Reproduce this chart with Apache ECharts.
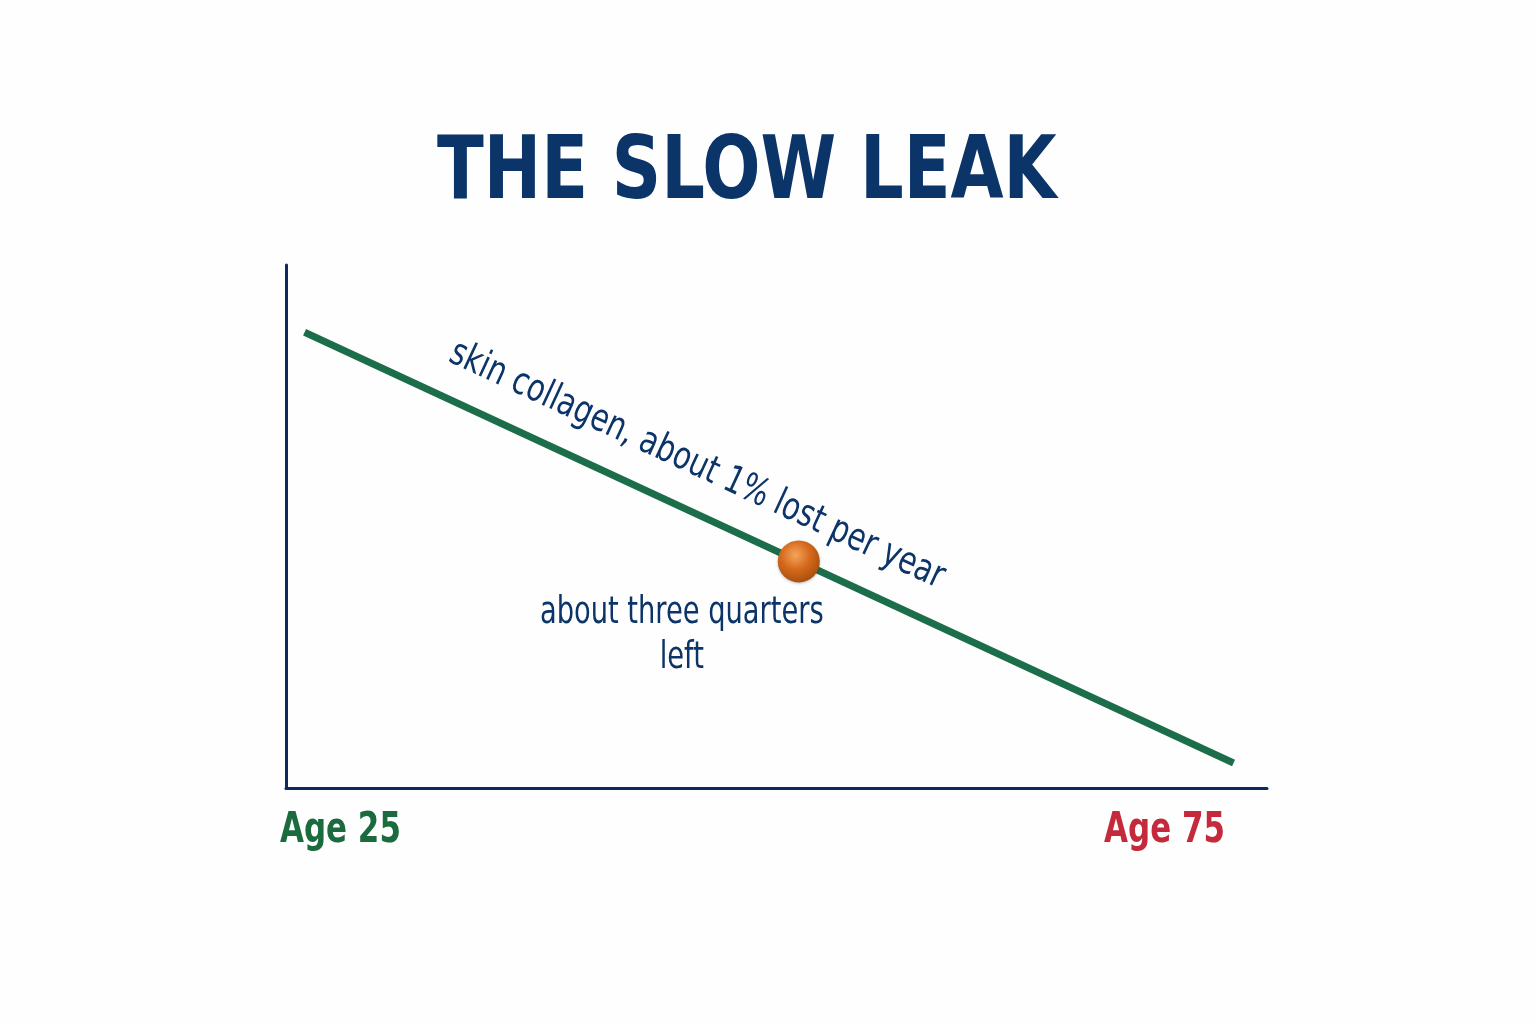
<!DOCTYPE html>
<html><head><meta charset="utf-8">
<script src="https://cdn.jsdelivr.net/npm/echarts@6/dist/echarts.min.js"></script>
<style>html,body{margin:0;padding:0;background:#fefefe}#c{width:1536px;height:1024px}</style>
</head><body><div id="c"></div>
<script>
const titleText = 'THE SLOW LEAK';
const lineAges = [25, 75];
const lineValues = [100, 50];
const markerAge = [51.6];
const markerValue = [73.4];
const startLabel = 'Age 25';
const endLabel = 'Age 75';
const lineLabel = 'skin collagen, about 1% lost per year';
const markerLabel = 'about three quarters\nleft';

const FONT = "'Liberation Sans Narrow','DejaVu Sans Condensed','Noto Sans',sans-serif";
const NAVY = '#0b3468';
const chart = echarts.init(document.getElementById('c'));
chart.setOption({
  backgroundColor: '#fefefe',
  animation: false,
  grid: {left: 286, right: 269, top: 265, bottom: 236},
  xAxis: {type: 'value', min: 24, max: 76.8, axisLine: {show: true, onZero: false, lineStyle: {color: '#0d2a5c', width: 3}},
    axisTick: {show: false}, axisLabel: {show: false}, splitLine: {show: false}},
  yAxis: {type: 'value', min: 47.1, max: 107.8, axisLine: {show: true, onZero: false, lineStyle: {color: '#0d2a5c', width: 3}},
    axisTick: {show: false}, axisLabel: {show: false}, splitLine: {show: false}},
  series: [
    {type: 'line', data: lineAges.map((a, i) => [a, lineValues[i]]), showSymbol: false, symbol: 'none',
      lineStyle: {color: '#1c6e4a', width: 7, cap: 'butt'}, z: 2},
    {type: 'scatter', data: markerAge.map((a, i) => [a, markerValue[i]]), symbolSize: 42, z: 5,
      itemStyle: {opacity: 1, color: {type: 'radial', x: 0.42, y: 0.35, r: 0.68, colorStops: [
        {offset: 0, color: '#f3a65c'}, {offset: 0.5, color: '#d66a1c'}, {offset: 1, color: '#a34e0e'}]},
        shadowBlur: 3, shadowColor: 'rgba(0,0,0,0.25)', shadowOffsetY: 1}}
  ]
});

const p0 = chart.convertToPixel({gridIndex: 0}, [lineAges[0], lineValues[0]]);
const p1 = chart.convertToPixel({gridIndex: 0}, [lineAges[1], lineValues[1]]);
const pb = chart.convertToPixel({gridIndex: 0}, [markerAge[0], markerValue[0]]);
const dx = p1[0] - p0[0], dy = p1[1] - p0[1];
const len = Math.sqrt(dx * dx + dy * dy);
const ang = Math.atan2(dy, dx);
const ux = dx / len, uy = dy / len;
const nx = uy, ny = -ux; // normal pointing up
const mid = [(p0[0] + p1[0]) / 2 - 100 * ux + 44 * nx, (p0[1] + p1[1]) / 2 - 100 * uy + 44 * ny];

chart.setOption({
  graphic: [
    {type: 'text', x: 437, y: 131, scaleX: 0.866, style: {text: titleText, fill: NAVY, font: 'bold 88px ' + FONT, verticalAlign: 'top'}},
    {type: 'text', x: mid[0], y: mid[1], rotation: -ang, scaleX: 0.85,
      style: {text: lineLabel, fill: NAVY, font: '38px ' + FONT, align: 'center', verticalAlign: 'middle'}},
    {type: 'text', x: pb[0] - 117, y: pb[1] + 74, scaleX: 0.82,
      style: {text: markerLabel, fill: NAVY, font: '37px ' + FONT, lineHeight: 45, align: 'center', verticalAlign: 'middle'}},
    {type: 'text', x: 280, y: 831, scaleX: 0.8, style: {text: startLabel, fill: '#1b6b3f', font: 'bold 43px ' + FONT, align: 'left', verticalAlign: 'middle'}},
    {type: 'text', x: 1225, y: 831, scaleX: 0.8, style: {text: endLabel, fill: '#c42a3b', font: 'bold 43px ' + FONT, align: 'right', verticalAlign: 'middle'}}
  ]
});
</script></body></html>
